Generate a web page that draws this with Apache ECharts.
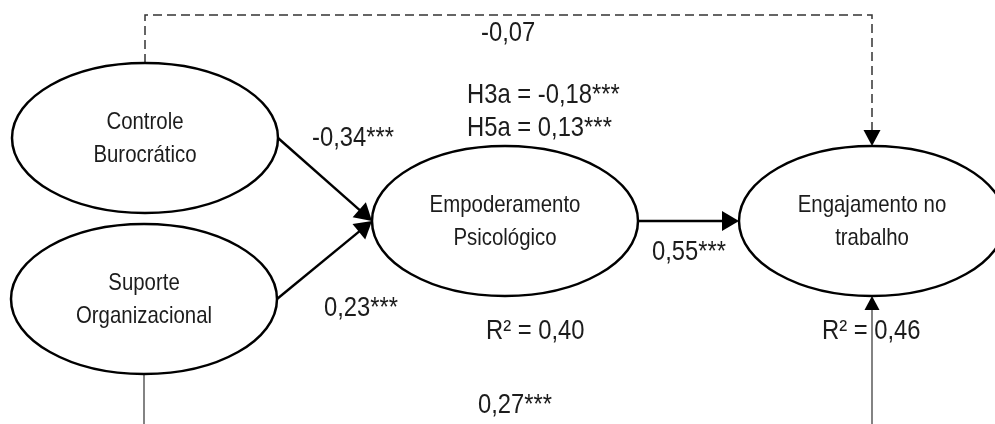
<!DOCTYPE html>
<html>
<head>
<meta charset="utf-8">
<script src="https://cdn.jsdelivr.net/npm/echarts@6/dist/echarts.min.js"></script>
<style>
  html, body { margin: 0; padding: 0; background: #fff; }
  #chart { width: 995px; height: 424px; }
</style>
</head>
<body>
<div id="chart"></div>
<script>
// Constructs of the structural model
const constructs = ['Controle\nBurocrático', 'Suporte\nOrganizacional', 'Empoderamento\nPsicológico', 'Engajamento no\ntrabalho'];

// Path coefficients
const directFrom = [0, 1, 2];
const directTo = [2, 2, 3];
const directCoef = ['-0,34***', '0,23***', '0,55***'];
const controlToEngagement = '-0,07';
const supportToEngagement = '0,27***';
const indirectEffects = ['H3a = -0,18***', 'H5a = 0,13***'];
const rSquared = ['0,40', '0,46'];

// Diagram layout (diagram units, 995 x 424 canvas)
const nodeX = [145, 144, 505, 872];
const nodeY = [138, 299, 221, 221];
const RX = 133, RY = 75;
const TOP_ROUTE = 15, BOTTOM_ROUTE = 460;

// Helvetica-condensed look: Liberation Sans squeezed horizontally
const FONT = "'Liberation Sans', Arial, sans-serif";
const SQUEEZE = 0.85;
const INK = '#1c1c1c';

// Routes between constructs: point lists + style
const routes = [];
directFrom.forEach((f, i) => {
    const t = directTo[i];
    routes.push({ pts: [[nodeX[f] + RX, nodeY[f]], [nodeX[t] - RX, nodeY[t]]], width: 2.4, color: '#000', dash: null, head: [17, 10] });
});
// Controle -> Engajamento (non-significant, dashed, over the top)
routes.push({
    pts: [[nodeX[0], nodeY[0] - RY], [nodeX[0], TOP_ROUTE], [nodeX[3], TOP_ROUTE], [nodeX[3], nodeY[3] - RY]],
    width: 1.5, color: '#333', dash: [9, 5], head: [16, 8.5]
});
// Suporte -> Engajamento (runs below the visible area)
routes.push({
    pts: [[nodeX[1], nodeY[1] + RY], [nodeX[1], BOTTOM_ROUTE], [nodeX[3], BOTTOM_ROUTE], [nodeX[3], nodeY[3] + RY]],
    width: 1.2, color: '#333', dash: null, head: [14, 7.5]
});

// Coefficient labels, anchored at their left edge
const labelText = [directCoef[0], directCoef[1], directCoef[2], controlToEngagement, supportToEngagement,
    indirectEffects[0], indirectEffects[1], 'R² = ' + rSquared[0], 'R² = ' + rSquared[1]];
const labelPos = [[312, 138], [324, 308], [652, 252], [481, 33], [478, 405],
    [467, 95], [467, 128], [486, 331], [822, 331]];

const chart = echarts.init(document.getElementById('chart'));

function renderNode(params, api) {
    const c = api.coord([api.value(0), api.value(1)]);
    const s = api.size([RX, RY]);
    return {
        type: 'group',
        children: [{
            type: 'ellipse',
            shape: { cx: c[0], cy: c[1], rx: s[0], ry: s[1] },
            style: { fill: '#fff', stroke: '#000', lineWidth: 2.5 }
        }, {
            type: 'text',
            x: c[0], y: c[1] + 1,
            scaleX: SQUEEZE,
            style: {
                text: constructs[params.dataIndex],
                x: 0, y: 0,
                align: 'center', verticalAlign: 'middle',
                fontFamily: FONT, fontSize: 24, lineHeight: 33,
                fill: INK
            }
        }]
    };
}

function renderRoute(params, api) {
    const r = routes[params.dataIndex];
    const p = r.pts.map(pt => api.coord(pt));
    const end = p[p.length - 1];
    const prev = p[p.length - 2];
    const dx = end[0] - prev[0], dy = end[1] - prev[1];
    const len = Math.sqrt(dx * dx + dy * dy);
    const ux = dx / len, uy = dy / len;
    const L = r.head[0], W = r.head[1];
    const bx = end[0] - ux * L, by = end[1] - uy * L;
    const linePts = p.slice(0, -1).concat([[bx + ux, by + uy]]);
    return {
        type: 'group',
        children: [{
            type: 'polyline',
            shape: { points: linePts },
            style: { stroke: r.color, lineWidth: r.width, lineDash: r.dash, fill: null }
        }, {
            type: 'polygon',
            shape: { points: [end, [bx - uy * W, by + ux * W], [bx + uy * W, by - ux * W]] },
            style: { fill: '#000' }
        }]
    };
}

function renderLabel(params, api) {
    const c = api.coord([api.value(0), api.value(1)]);
    return {
        type: 'text',
        x: c[0], y: c[1],
        scaleX: SQUEEZE,
        style: {
            text: labelText[params.dataIndex],
            x: 0, y: 0,
            align: 'left', verticalAlign: 'middle',
            fontFamily: FONT, fontSize: 28,
            fill: INK
        }
    };
}

chart.setOption({
    animation: false,
    backgroundColor: '#fff',
    grid: { left: 0, right: 0, top: 0, bottom: 0 },
    xAxis: { type: 'value', min: 0, max: 995, show: false },
    yAxis: { type: 'value', min: 0, max: 424, inverse: true, show: false },
    series: [{
        type: 'custom',
        renderItem: renderRoute,
        data: routes.map(r => [r.pts[0][0], r.pts[0][1]]),
        z: 1
    }, {
        type: 'custom',
        renderItem: renderNode,
        data: constructs.map((n, i) => [nodeX[i], nodeY[i]]),
        z: 2
    }, {
        type: 'custom',
        renderItem: renderLabel,
        data: labelPos,
        z: 3
    }]
});
</script>
</body>
</html>
